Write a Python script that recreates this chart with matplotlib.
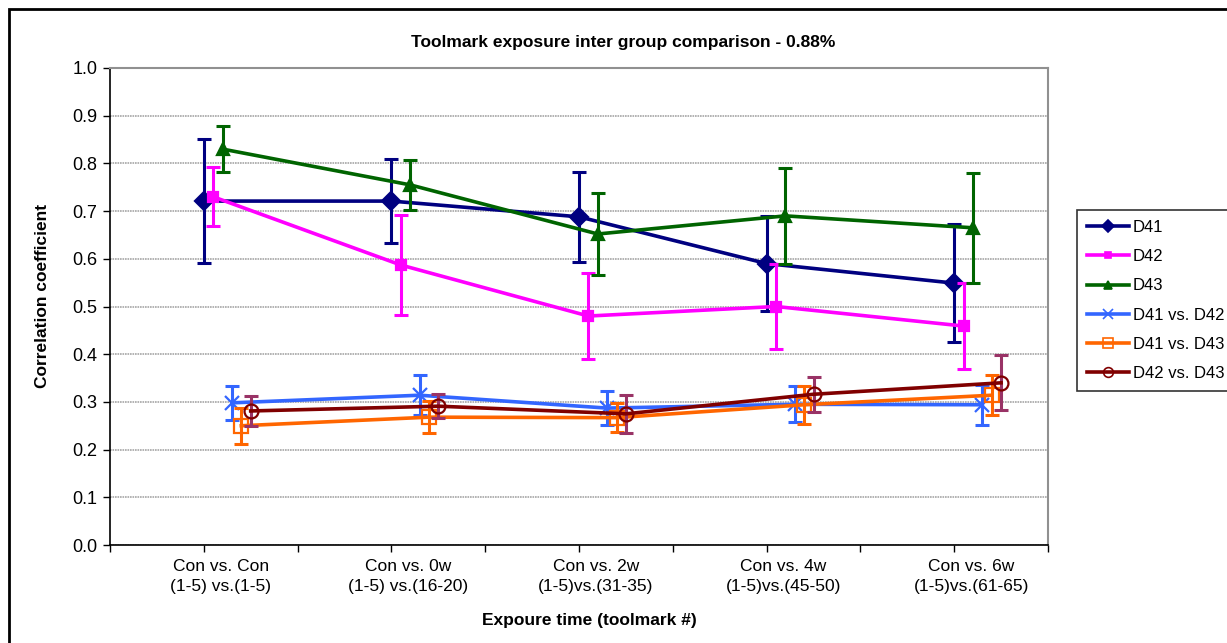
import matplotlib.pyplot as plt
from matplotlib.lines import Line2D
from matplotlib.patches import Rectangle
import numpy as np

plt.rcParams['font.family'] = ['Liberation Sans', 'DejaVu Sans']

categories = ['Con vs. Con\n(1-5) vs.(1-5)', 'Con vs. 0w\n(1-5) vs.(16-20)',
              'Con vs. 2w\n(1-5)vs.(31-35)', 'Con vs. 4w\n(1-5)vs.(45-50)',
              'Con vs. 6w\n(1-5)vs.(61-65)']
series_names = ['D41', 'D42', 'D43', 'D41 vs. D42', 'D41 vs. D43', 'D42 vs. D43']

d41 = [0.721, 0.721, 0.688, 0.590, 0.549]
d41_err = [0.130, 0.088, 0.094, 0.100, 0.124]
d42 = [0.730, 0.587, 0.480, 0.500, 0.459]
d42_err = [0.062, 0.104, 0.090, 0.090, 0.090]
d43 = [0.830, 0.755, 0.652, 0.690, 0.665]
d43_err = [0.048, 0.052, 0.085, 0.100, 0.115]
d41_d42 = [0.298, 0.314, 0.287, 0.295, 0.294]
d41_d42_err = [0.036, 0.042, 0.035, 0.038, 0.042]
d41_d43 = [0.250, 0.268, 0.267, 0.294, 0.314]
d41_d43_err = [0.038, 0.033, 0.030, 0.040, 0.042]
d42_d43 = [0.281, 0.291, 0.275, 0.316, 0.340]
d42_d43_err = [0.032, 0.025, 0.040, 0.037, 0.058]

values = [d41, d42, d43, d41_d42, d41_d43, d42_d43]
errors = [d41_err, d42_err, d43_err, d41_d42_err, d41_d43_err, d42_d43_err]

# style per series: line colour, errorbar colour, marker, size, filled
styles = [
    ('#000080', '#000080', 'D', 9, True),
    ('#FF00FF', '#FF00FF', 's', 7, True),
    ('#006400', '#006400', '^', 9, True),
    ('#3366FF', '#3366FF', 'x', 10, False),
    ('#FF6600', '#FF6600', 's', 10, False),
    ('#800000', '#993366', 'o', 10, False),
]

fig = plt.figure(figsize=(12.27, 6.43), dpi=100)
ax = fig.add_axes([110 / 1227, 1 - 545 / 643, 938 / 1227, 477 / 643])

x0 = np.arange(1, len(categories) + 1)
handles = []
for i, (vals, errs) in enumerate(zip(values, errors)):
    col, ecol, mk, ms, filled = styles[i]
    x = x0 + 0.05 * i
    ax.errorbar(x, vals, yerr=errs, fmt='none', ecolor=ecol, elinewidth=2.2,
                capsize=5, capthick=2.2, zorder=3 + i)
    mfc = col if filled else 'none'
    ax.plot(x, vals, color=col, lw=2.6, marker=mk, ms=ms, mfc=mfc, mec=col,
            mew=1.6, zorder=3 + i)
    handles.append(Line2D([], [], color=col, lw=2.6, marker=mk, ms=ms * 0.7,
                          mfc=mfc, mec=col, mew=1.2))

ax.set_xlim(0.5, 5.5)
ax.set_ylim(0, 1.0)
ax.set_yticks(np.arange(0, 1.01, 0.1))
ax.set_yticklabels([f'{v:.1f}' for v in np.arange(0, 1.01, 0.1)], fontsize=13)
ax.yaxis.grid(True, color='#a6a6a6', lw=1.2, ls=(0, (1, 0.5)))
ax.set_axisbelow(True)

ax.set_xticks(np.arange(0.5, 5.51, 0.5))
ax.set_xticklabels([])
ax.set_xticks(x0 + 0.09, minor=True)
ax.set_xticklabels(categories, minor=True, fontsize=12.5, linespacing=1.45)
ax.tick_params(axis='x', which='minor', length=0, pad=10)
ax.tick_params(axis='x', which='major', length=5, direction='out', width=1)
ax.tick_params(axis='y', length=5, direction='out', width=1, pad=4)

for s in ['left', 'bottom']:
    ax.spines[s].set_color('black')
    ax.spines[s].set_linewidth(1.2)
for s in ['top', 'right']:
    ax.spines[s].set_color('#909090')
    ax.spines[s].set_linewidth(1.5)

fig.text(623 / 1227, 1 - 42 / 643, 'Toolmark exposure inter group comparison - 0.88%',
         ha='center', va='center', fontsize=12.5, fontweight='bold')
fig.text(589 / 1227, 1 - 620 / 643, 'Expoure time (toolmark #)',
         ha='center', va='center', fontsize=12.5, fontweight='bold')
fig.text(43 / 1227, 1 - 296 / 643, 'Correlation coefficient', rotation=90,
         ha='center', va='center', fontsize=12.5, fontweight='bold')

leg = fig.legend(handles, series_names, loc='upper left',
                 bbox_to_anchor=(1077 / 1227, 1 - 210 / 643), fontsize=12,
                 frameon=True, fancybox=False, edgecolor='black',
                 handlelength=2.5, handletextpad=0.25, labelspacing=0.85,
                 borderpad=0.6, borderaxespad=0)
leg.get_frame().set_linewidth(1.2)

fig.patches.append(Rectangle((9 / 1227, -0.1), 1.2, 1 - 9 / 643 + 0.1,
                             transform=fig.transFigure, fill=False,
                             edgecolor='black', lw=2))

fig.savefig('out.png', dpi=100)
